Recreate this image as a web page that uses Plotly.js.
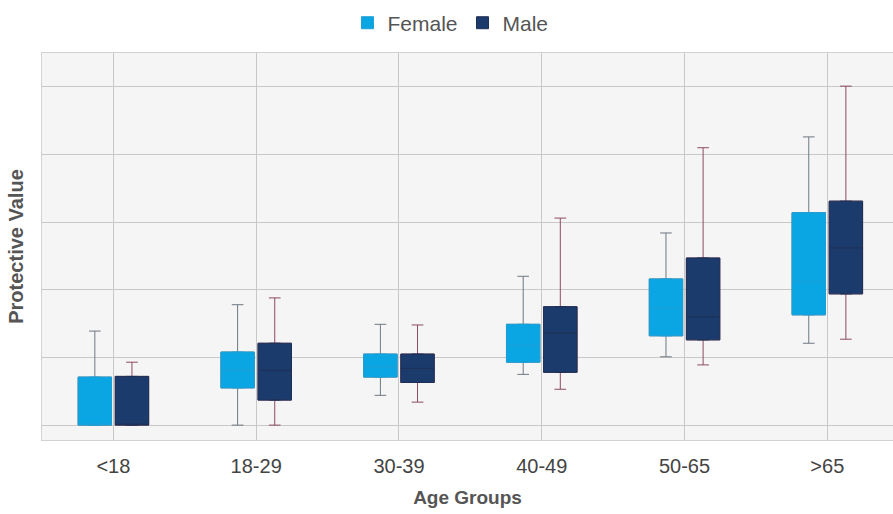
<!DOCTYPE html>
<html>
<head>
<meta charset="utf-8">
<script src="https://cdn.plot.ly/plotly-3.0.1.min.js"></script>
<style>html,body{margin:0;padding:0;background:#fff;}#chart{width:893px;height:514px;}</style>
</head>
<body>
<div id="chart"></div>
<script>
// Age group categories
var categories = ["<18", "18-29", "30-39", "40-49", "50-65", ">65"];

// Female box statistics (Protective Value, estimated)
var femaleLower  = [0.00, 0.00, 0.44, 0.75, 1.01, 1.21];
var femaleQ1     = [0.00, 0.55, 0.71, 0.93, 1.32, 1.63];
var femaleMedian = [0.00, 0.81, 0.86, 1.18, 1.73, 2.12];
var femaleQ3     = [0.71, 1.08, 1.05, 1.49, 2.16, 3.14];
var femaleUpper  = [1.39, 1.78, 1.49, 2.20, 2.84, 4.26];

// Male box statistics (Protective Value, estimated)
var maleLower  = [0.00, 0.00, 0.34, 0.53, 0.89, 1.27];
var maleQ1     = [0.00, 0.37, 0.63, 0.78, 1.26, 1.94];
var maleMedian = [0.00, 0.81, 0.84, 1.36, 1.60, 2.62];
var maleQ3     = [0.72, 1.21, 1.05, 1.75, 2.47, 3.31];
var maleUpper  = [0.93, 1.88, 1.48, 3.06, 4.10, 5.01];

var femaleFill = "#0aa6e4", femaleEdge = "#1d9fd6", femaleWhisker = "#6f7882";
var maleFill = "#1b3b6c", maleEdge = "#1f2f55", maleWhisker = "#8c4b62";

function whiskerTrace(name, lo, q1, med, q3, hi, color, grp) {
  return {type: "box", name: name, x: categories, q1: q1, median: med, q3: q3,
    lowerfence: lo, upperfence: hi, offsetgroup: grp, showlegend: false,
    fillcolor: "rgba(0,0,0,0)", line: {color: color, width: 1}, whiskerwidth: 0.35,
    hoverinfo: "skip"};
}
function boxTrace(name, q1, med, q3, fill, edge, grp) {
  return {type: "box", name: name, x: categories, q1: q1, median: med, q3: q3,
    lowerfence: q1, upperfence: q3, offsetgroup: grp,
    fillcolor: fill, line: {color: edge, width: 1}, whiskerwidth: 0.35};
}

var data = [
  whiskerTrace("Female", femaleLower, femaleQ1, femaleMedian, femaleQ3, femaleUpper, femaleWhisker, "F"),
  whiskerTrace("Male", maleLower, maleQ1, maleMedian, maleQ3, maleUpper, maleWhisker, "M"),
  boxTrace("Female", femaleQ1, femaleMedian, femaleQ3, femaleFill, femaleEdge, "F"),
  boxTrace("Male", maleQ1, maleMedian, maleQ3, maleFill, maleEdge, "M")
];

var layout = {
  width: 893, height: 514,
  margin: {l: 42, r: 0, t: 53, b: 74},
  paper_bgcolor: "#ffffff",
  plot_bgcolor: "#f5f5f5",
  boxmode: "group", boxgap: 0.48, boxgroupgap: 0.1,
  font: {family: "Liberation Sans, Arial, sans-serif", color: "#444"},
  showlegend: true,
  legend: {orientation: "h", x: 0.48, xanchor: "center", y: 0.995, yanchor: "top",
    yref: "container", font: {size: 21, color: "#555"}, itemwidth: 30, tracegroupgap: 0},
  xaxis: {type: "category", range: [-0.5, 5.46], showgrid: true, gridcolor: "#c8c8c8",
    showline: true, linecolor: "#d2d2d2", mirror: true, ticks: "", automargin: false,
    tickfont: {size: 20, color: "#444"}, ticklabelstandoff: 8,
    title: {text: "<b>Age Groups</b>", font: {size: 19, color: "#555"}, standoff: 14}},
  yaxis: {range: [-0.22, 5.5], dtick: 1, tick0: 0, showticklabels: false, showgrid: true,
    gridcolor: "#c8c8c8", zeroline: false, showline: true, linecolor: "#d2d2d2", mirror: true,
    automargin: false,
    title: {text: "<b>Protective Value</b>", font: {size: 20, color: "#555"}, standoff: 12}}
};

Plotly.newPlot("chart", data, layout, {displayModeBar: false, staticPlot: true});
</script>
</body>
</html>
